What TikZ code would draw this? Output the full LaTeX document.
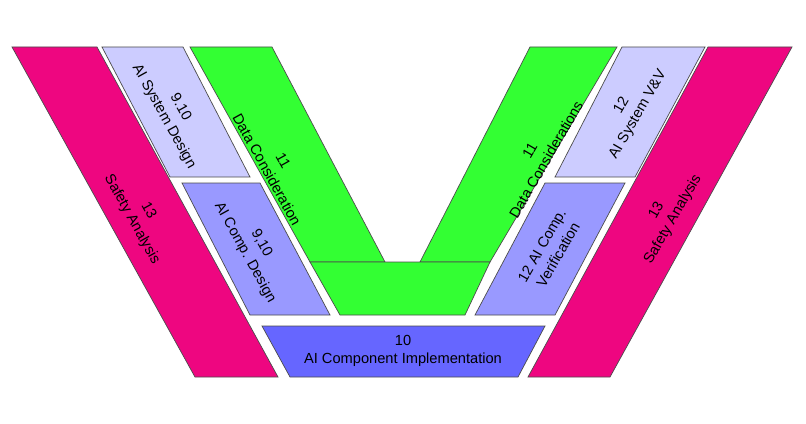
\documentclass[tikz,border=0pt]{standalone}
\usepackage{fontspec}
\setmainfont{Liberation Sans}
\begin{document}
\begin{tikzpicture}[x=0.03cm,y=-0.03cm,
  blk/.style={draw=black!70,line width=0.6pt},
  lbl/.style={align=center,inner sep=1pt,font=\fontsize{12.5}{16}\selectfont},
  L/.style={lbl,rotate=-61},R/.style={lbl,rotate=60}]
\definecolor{mag}{HTML}{EE0680}
\definecolor{lav1}{HTML}{CCCCFF}
\definecolor{lav2}{HTML}{9999FF}
\definecolor{blu}{HTML}{6666FF}
\definecolor{grn}{HTML}{33FF33}
\useasboundingbox (0,0) rectangle (806,424);
% left
\draw[blk,fill=mag] (12,47)--(97,47)--(278,377)--(195,377)--cycle;
\draw[blk,fill=lav1] (102,47)--(183,47)--(250,177)--(170,177)--cycle;
\draw[blk,fill=lav2] (182,183)--(260,183)--(330,315)--(250,315)--cycle;
% green
\draw[blk,fill=grn] (190,47)--(272,47)--(385,262)--(310,262)--cycle;
\draw[blk,fill=grn] (530,47)--(617,47)--(490,262)--(420,262)--cycle;
\draw[blk,fill=grn] (310,262)--(490,262)--(465,315)--(340,315)--cycle;
% bottom
\draw[blk,fill=blu] (262,326)--(545,326)--(518,377)--(290,377)--cycle;
% right
\draw[blk,fill=lav1] (622,47)--(705,47)--(635,177)--(555,177)--cycle;
\draw[blk,fill=lav2] (545,183)--(625,183)--(555,315)--(475,315)--cycle;
\draw[blk,fill=mag] (708,47)--(792,47)--(610,377)--(528,377)--cycle;
% labels
\node[L] (sa1) at (140,215) {13\\Safety Analysis};
\node[L] (sd) at (172,112) {9.10\\AI System Design};
\node[L] (cd) at (253,248) {9,10\\AI Comp. Design};
\node[L] (dc1) at (275,165) {11\\Data Consideration};
\node[R] (dc2) at (538,155) {11\\Data Considerations};
\node[R] (vv) at (630,110) {12\\AI System V\&V};
\node[R] (cv) at (550,250) {12 AI Comp.\\Verification};
\node[R] (sa2) at (665,215) {13\\Safety Analysis};
\node[lbl] (impl) at (403,351) {10\\AI Component Implementation};
\end{tikzpicture}
\end{document}
